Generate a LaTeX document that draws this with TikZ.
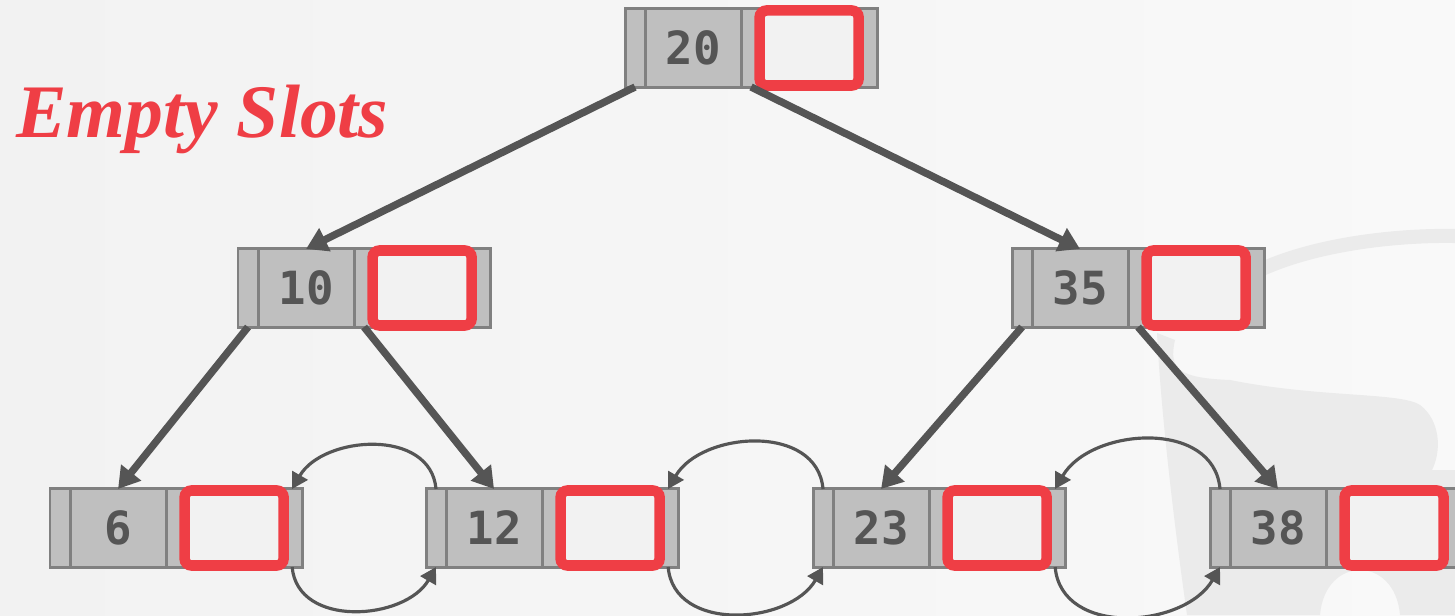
\documentclass[tikz,border=0pt]{standalone}
\usepackage{fontspec}
\setmainfont{Liberation Serif}
\newfontfamily\keyfont{DejaVu Sans Mono}
\usetikzlibrary{positioning,arrows.meta}

\definecolor{slotred}{RGB}{239,62,69}
\definecolor{edgegray}{RGB}{85,85,85}
\definecolor{cellgray}{RGB}{191,191,191}
\definecolor{cellline}{RGB}{128,128,128}
\definecolor{slotfill}{RGB}{242,242,242}
\definecolor{bgleft}{RGB}{242,242,242}
\definecolor{bgright}{RGB}{249,249,249}
\definecolor{wmgray}{RGB}{235,235,235}

\tikzset{
    cell/.style={rectangle, draw=cellline, fill=cellgray, line width=0.85pt, outer sep=0pt, inner sep=0pt, minimum height=0.78cm},
    ptr/.style={cell, minimum width=0.2cm},
    key/.style={cell, minimum width=0.96cm, text=edgegray, font=\keyfont\bfseries\fontsize{13}{13}\selectfont},
    slot/.style={rectangle, draw=slotred, fill=slotfill, line width=3pt, rounded corners=2pt, inner sep=0pt, minimum width=0.99cm, minimum height=0.75cm},
    child/.style={-{Triangle[length=6pt,width=7pt]}, line width=2.1pt, draw=edgegray},
    sibling/.style={-{Triangle[length=4.5pt,width=5pt]}, line width=0.9pt, draw=edgegray}
}

% one tree node: name, left-centre point, key
\newcommand{\btnode}[3]{%
    \node[ptr, anchor=west] (#1p0) at (#2) {};
    \node[key, right=0pt of #1p0] (#1) {#3};
    \node[ptr, right=0pt of #1] (#1p1) {};
    \node[key, right=0pt of #1p1] (#1k2) {};
    \node[ptr, right=0pt of #1k2] (#1p2) {};
    \node[slot] (#1s) at (#1k2) {};
}

\begin{document}
\begin{tikzpicture}[x=0.01cm, y=0.01cm]
    \useasboundingbox (0,0) rectangle (1455,615);
    \fill[left color=bgleft, right color=bgright] (0,0) rectangle (1455,615);
    % faint watermark
    \draw[wmgray, line width=4pt] (1262,346) .. controls (1320,372) and (1400,380) .. (1455,379);
    \fill[wmgray] (1157,282) -- (1175,275) .. controls (1168,245) and (1180,237) .. (1230,235)
        .. controls (1320,217) and (1400,223) .. (1420,210) .. controls (1440,195) and (1442,165) .. (1432,145)
        -- (1455,145) -- (1455,0) -- (1400,0) .. controls (1395,60) and (1325,60) .. (1320,0)
        -- (1187,0) .. controls (1170,120) and (1160,220) .. cycle;

    \node[anchor=base west, text=slotred, font=\bfseries\itshape\fontsize{21.5}{24}\selectfont] (title) at (4,477) {Empty Slots};

    \btnode{n20}{625,567}{20}
    \btnode{n10}{238,327}{10}
    \btnode{n35}{1012,327}{35}
    \btnode{n6}{50,87}{6}
    \btnode{n12}{426,87}{12}
    \btnode{n23}{813,87}{23}
    \btnode{n38}{1210,87}{38}

    \draw[child] (n20p0.south) -- (n10.north);
    \draw[child] (n20p1.south) -- (n35.north);
    \draw[child] (n10p0.south) -- (n6.north);
    \draw[child] (n10p1.south) -- (n12.north);
    \draw[child] (n35p0.south) -- (n23.north);
    \draw[child] (n35p1.south) -- (n38.north);

    % leaf links
    \draw[sibling] (n12p0.north) to[out=95, in=60, looseness=1.1] (n6p2.north);
    \draw[sibling] (n6p2.south) to[out=-85, in=-120, looseness=1.1] (n12p0.south);
    \draw[sibling] (n23p0.north) to[out=95, in=60, looseness=1.1] (n12p2.north);
    \draw[sibling] (n12p2.south) to[out=-85, in=-120, looseness=1.1] (n23p0.south);
    \draw[sibling] (n38p0.north) to[out=95, in=60, looseness=1.1] (n23p2.north);
    \draw[sibling] (n23p2.south) to[out=-85, in=-120, looseness=1.1] (n38p0.south);
\end{tikzpicture}
\end{document}
